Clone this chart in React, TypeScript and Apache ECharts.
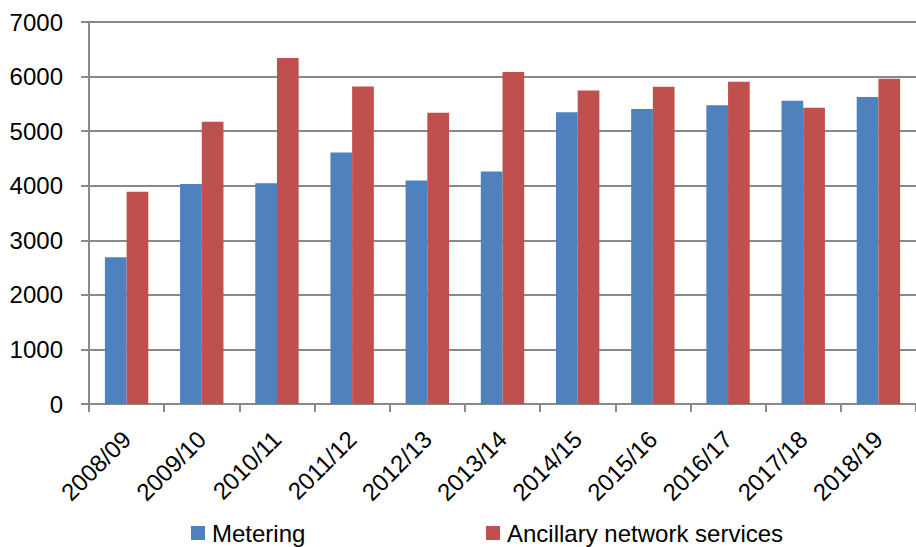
import React, { useEffect, useRef } from "react";
import * as echarts from "echarts";

const categories = [
  "2008/09", "2009/10", "2010/11", "2011/12", "2012/13", "2013/14",
  "2014/15", "2015/16", "2016/17", "2017/18", "2018/19",
];
const metering = [2690, 4030, 4045, 4610, 4095, 4260, 5345, 5405, 5475, 5555, 5625];
const ancillary = [3890, 5170, 6340, 5820, 5335, 6085, 5745, 5815, 5905, 5430, 5960];
const seriesNames = ["Metering", "Ancillary network services"];
const yTicks = { min: 0, max: 7000, interval: 1000 };

const FONT = "'Liberation Sans', Arial, sans-serif";
const GRAY = "#898989";

export default function App() {
  const ref = useRef<HTMLDivElement>(null);
  useEffect(() => {
    if (!ref.current) return;
    const chart = echarts.init(ref.current, undefined, { renderer: "svg" });
    const legendCommon = {
      top: 521,
      padding: 0,
      itemWidth: 14,
      itemHeight: 14,
      itemGap: 0,
      icon: "rect",
      textStyle: { fontSize: 24, color: "#000", fontFamily: FONT, padding: [0, 0, 0, 2] },
    };
    chart.setOption({
      animation: false,
      backgroundColor: "#ffffff",
      textStyle: { fontFamily: FONT },
      grid: { left: 89, top: 22, bottom: 143, right: -9, containLabel: false },
      legend: [
        { ...legendCommon, data: [seriesNames[0]], left: 191 },
        { ...legendCommon, data: [seriesNames[1]], left: 486 },
      ],
      xAxis: {
        type: "category",
        data: categories,
        axisLine: { show: true, lineStyle: { color: GRAY, width: 2 } },
        axisTick: { show: true, length: 8, lineStyle: { color: GRAY, width: 2 } },
        axisLabel: {
          rotate: 45,
          fontSize: 24,
          color: "#000",
          fontFamily: FONT,
          margin: 31,
          interval: 0,
        },
      },
      yAxis: {
        type: "value",
        min: yTicks.min,
        max: yTicks.max,
        interval: yTicks.interval,
        axisLine: { show: true, lineStyle: { color: GRAY, width: 2 } },
        axisTick: { show: true, length: 8, lineStyle: { color: GRAY, width: 2 } },
        axisLabel: {
          fontSize: 24,
          color: "#000",
          fontFamily: FONT,
          margin: 26,
          formatter: (v: number) => String(v),
        },
        splitLine: { show: true, lineStyle: { color: GRAY, width: 2 } },
      },
      series: [
        {
          name: seriesNames[0],
          type: "bar",
          data: metering,
          barWidth: 21.7,
          barGap: "0%",
          itemStyle: { color: "#4F81BD" },
        },
        {
          name: seriesNames[1],
          type: "bar",
          data: ancillary,
          barWidth: 21.7,
          barGap: "0%",
          itemStyle: { color: "#C0504D" },
        },
      ],
    });
    return () => chart.dispose();
  }, []);
  return (
    <div
      ref={ref}
      style={{ position: "fixed", left: 0, top: 0, width: 916, height: 547 }}
    />
  );
}
